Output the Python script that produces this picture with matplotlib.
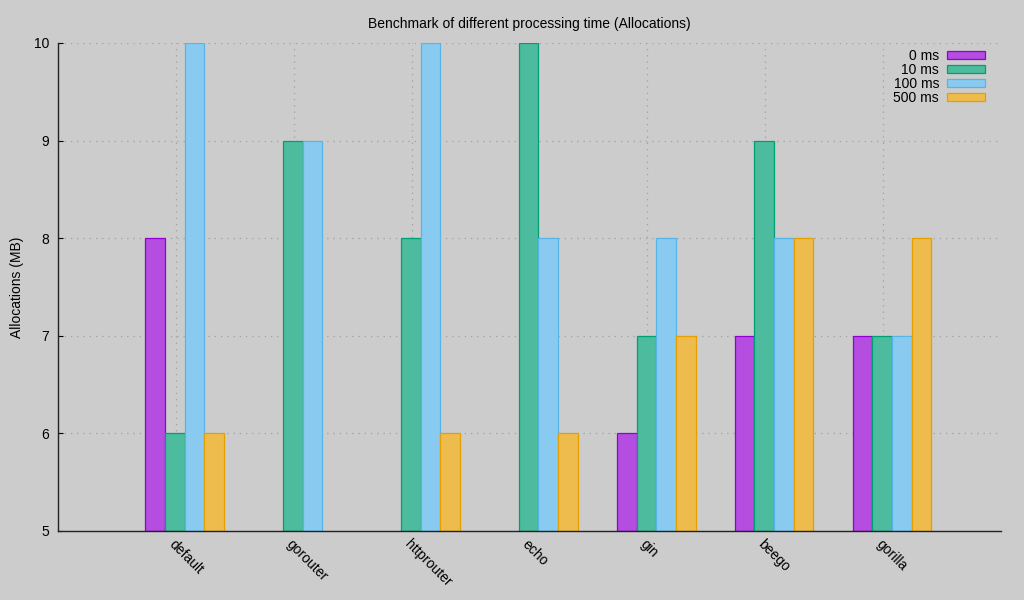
import numpy as np
import matplotlib.pyplot as plt

plt.rcParams['font.family'] = ['Liberation Sans', 'DejaVu Sans']

routers = ['default', 'gorouter', 'httprouter', 'echo', 'gin', 'beego', 'gorilla']
series = ['0 ms', '10 ms', '100 ms', '500 ms']

# allocations (MB), nan = no bar drawn
alloc_0ms = [8, np.nan, np.nan, np.nan, 6, 7, 7]
alloc_10ms = [6, 9, 8, 10, 7, 9, 7]
alloc_100ms = [10, 9, 10, 8, 8, 8, 7]
alloc_500ms = [6, np.nan, 6, 6, 7, 8, 8]
values = [alloc_0ms, alloc_10ms, alloc_100ms, alloc_500ms]

line_colors = ['#9400d3', '#009e73', '#56b4e9', '#e69f00']
fill_colors = ['#b44de0', '#4dbb9d', '#89cbf0', '#eebc4d']

fig = plt.figure(figsize=(10.24, 6), dpi=100, facecolor='#cccccc')
ax = fig.add_axes([58 / 1024, 1 - 531 / 600, 943 / 1024, 488 / 600])
ax.set_facecolor('#cccccc')

x = np.arange(len(routers))
w = 1 / 6
for j, (name, vals) in enumerate(zip(series, values)):
    v = np.array(vals, dtype=float)
    ax.bar(x + (j - 1) * w - 0.008, v - 5, w, bottom=5, color=fill_colors[j],
           edgecolor=line_colors[j], linewidth=0.9, label=name, zorder=2)

ax.set_xlim(-1, 7)
ax.set_ylim(5, 10)
ax.set_xticks(x)
ax.set_xticklabels(routers, rotation=-45, ha='left', va='top',
                   rotation_mode='anchor', fontsize=10)
ax.set_yticks([5, 6, 7, 8, 9, 10])
ax.tick_params(axis='y', direction='in', length=3.6, width=0.8, pad=6.5,
               labelsize=10)
ax.tick_params(axis='x', length=0, pad=4.2)

ax.grid(True, color='#a0a0a0', linestyle=(0, (1, 4)), linewidth=0.9)
ax.set_axisbelow(True)

for s in ['top', 'right']:
    ax.spines[s].set_visible(False)
for s in ['left', 'bottom']:
    ax.spines[s].set_linewidth(1.0)
    ax.spines[s].set_color('#222222')

ax.set_title('Benchmark of different processing time (Allocations)',
             fontsize=10, pad=11)
ax.set_ylabel('Allocations (MB)', fontsize=10)
ax.yaxis.set_label_coords(-0.036, 0.5)

ax.legend(loc='upper right', bbox_to_anchor=(926 / 943 + 0.001, 0.988),
          frameon=False, markerfirst=False, fontsize=10, handlelength=2.7,
          handleheight=0.45, labelspacing=0.0, borderpad=0, borderaxespad=0,
          handletextpad=0.6)

fig.savefig('out.png', dpi=100, facecolor='#cccccc')
